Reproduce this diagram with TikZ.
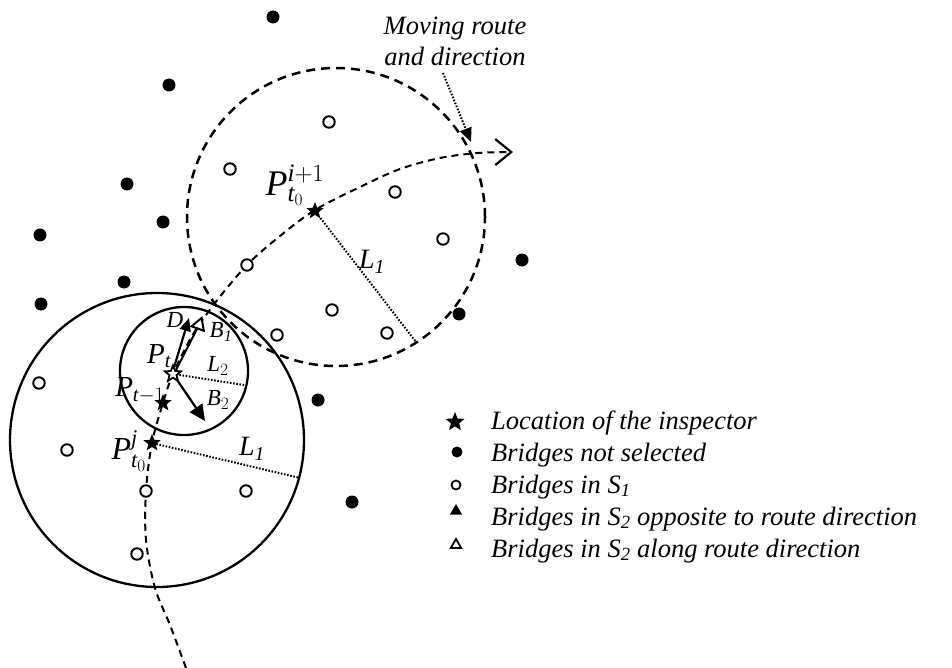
\documentclass[tikz,border=0pt]{standalone}
\usepackage{amsmath}
\usepackage{fontspec}
\setmainfont{Liberation Serif}
\usetikzlibrary{shapes.geometric, arrows.meta}
\newcommand{\fsLeg}{\fontsize{26.5}{31}\selectfont}
\newcommand{\fsBig}{\fontsize{36}{42}\selectfont}
\newcommand{\fsMid}{\fontsize{32}{38}\selectfont}
\newcommand{\fsP}{\fontsize{29}{34}\selectfont}
\newcommand{\fsSm}{\fontsize{23}{27}\selectfont}
\newcommand{\fsL}{\fontsize{28}{33}\selectfont}
\begin{document}
\begin{tikzpicture}[x=1pt,y=-1pt,
  bdot/.style={circle, fill=black, inner sep=0pt, minimum size=13pt},
  obr/.style={circle, draw=black, fill=white, line width=1.9pt, inner sep=0pt, minimum size=11.5pt},
  insp/.style={star, star points=5, star point ratio=2.3, fill=black, inner sep=0pt, minimum size=18pt},
  solidcirc/.style={circle, draw=black, line width=2.3pt, inner sep=0pt},
  dashcirc/.style={circle, draw=black, line width=2.5pt, dash pattern=on 9pt off 6pt, inner sep=0pt},
  routeline/.style={line width=2pt, dash pattern=on 7pt off 5pt},
  radline/.style={line width=2pt, dash pattern=on 1.6pt off 1.6pt},
  lbl/.style={inner sep=0pt},
  legtxt/.style={anchor=base west, inner sep=0pt, font=\fsLeg\itshape}
]
\useasboundingbox (0,0) rectangle (952,668);

% circles
\node[solidcirc, minimum size=294pt] (C1) at (157,440) {};
\node[solidcirc, minimum size=128pt] (C2) at (184,371) {};
\node[dashcirc, minimum size=298pt] (C3) at (336,217) {};

% route
\draw[routeline, -{Straight Barb[length=16pt,width=26pt,line width=2.2pt]}]
  plot[smooth, tension=0.55] coordinates {(186,668) (170,625) (155,588) (146,540) (146,491) (152,443) (163,403) (173,374) (192,336) (215,303) (247,265) (280,236) (315,210) (360,187) (400,169) (440,158) (478,153) (513,152)};

% inspector locations
\node[insp] (Pj) at (152,443) {};
\node[insp] (Ptm) at (163,403) {};
\node[insp] (Pi) at (315,211) {};

% radius lines
\coordinate (L1end) at (300,478);
\coordinate (L2end) at (244,385);
\coordinate (L3end) at (416,342);
\draw[radline] (Pj) -- (L1end);
\draw[radline] (Pi) -- (L3end);

% inspector P_t with its S2 bridges
\coordinate (Dtip) at (189,318);
\coordinate (B1pos) at (199,325);
\coordinate (B2tip) at (205,421);
\draw[line width=2pt] (175,372) -- (B1pos);
\node[regular polygon, regular polygon sides=3, draw=black, fill=white, line width=2pt, inner sep=0pt, minimum size=15pt, rotate=-20] (B1) at (B1pos) {};
\draw[line width=2.2pt, -{Triangle[length=13pt,width=11pt]}] (172,374) -- (Dtip);
\draw[line width=2.2pt, -{Triangle[length=16pt,width=15pt]}] (173,374) -- (B2tip);
\draw[radline] (173,374) -- (L2end);
\node[star, star points=5, star point ratio=2.3, draw=black, fill=white, line width=1.8pt, inner sep=0pt, minimum size=17pt] (Pt) at (173,374) {};

% bridges not selected
\node[bdot] (d1) at (273,17) {};
\node[bdot] (d2) at (169,85) {};
\node[bdot] (d3) at (127,184) {};
\node[bdot] (d4) at (163,222) {};
\node[bdot] (d5) at (40,235) {};
\node[bdot] (d6) at (124,282) {};
\node[bdot] (d7) at (41,304) {};
\node[bdot] (d8) at (522,260) {};
\node[bdot] (d9) at (459,314) {};
\node[bdot] (d10) at (318,400) {};
\node[bdot] (d11) at (352,502) {};

% bridges in S1
\node[obr] (o1) at (230,169) {};
\node[obr] (o2) at (329,122) {};
\node[obr] (o3) at (395,192) {};
\node[obr] (o4) at (443,239) {};
\node[obr] (o5) at (247,265) {};
\node[obr] (o6) at (332,310) {};
\node[obr] (o7) at (387,333) {};
\node[obr] (o8) at (277,335) {};
\node[obr] (o9) at (39,383) {};
\node[obr] (o10) at (67,450) {};
\node[obr] (o11) at (146,491) {};
\node[obr] (o12) at (246,491) {};
\node[obr] (o13) at (137,554) {};

% labels
\node[lbl, font=\fsBig] (lPi) at (295,185) {$\textit{P}^{\textit{i}+1}_{\textit{t}_{0}}$};
\node[lbl, font=\fsMid] (lPj) at (129,451) {$\textit{P}^{\textit{j}}_{\textit{t}_{0}}$};
\node[lbl, font=\fsP] (lPt) at (159,356) {$\textit{P}_{\textit{t}}$};
\node[lbl, font=\fsP] (lPtm) at (140,390) {$\textit{P}_{\textit{t}-1}$};
\node[lbl, font=\fsSm\itshape] (lD) at (175,320) {D};
\node[lbl, font=\fsSm] (lB1) at (221,332) {$\textit{B}_{\textit{1}}$};
\node[lbl, font=\fsSm] (lL2) at (218,366) {$\textit{L}_{2}$};
\node[lbl, font=\fsSm] (lB2) at (218,400) {$\textit{B}_{2}$};
\node[lbl, font=\fsL] (lL1) at (252,449) {$\textit{L}_{\textit{1}}$};
\node[lbl, font=\fsL] (lL3) at (372,262) {$\textit{L}_{\textit{1}}$};

% moving route annotation
\node[lbl, font=\fsLeg\itshape, align=center] (mv) at (455,41) {Moving route\\and direction};
\coordinate (mvs) at (443,73);
\coordinate (mvt) at (471,142);
\draw[radline, -{Triangle[length=14pt,width=12pt]}] (mvs) -- (mvt);

% legend
\node[insp, minimum size=20pt] (k1) at (455,422) {};
\node[circle, fill=black, inner sep=0pt, minimum size=11pt] (k2) at (457,452) {};
\node[circle, draw=black, line width=1.8pt, inner sep=0pt, minimum size=9pt] (k3) at (456,485) {};
\node[regular polygon, regular polygon sides=3, fill=black, inner sep=0pt, minimum size=14pt] (k4) at (456,511) {};
\node[regular polygon, regular polygon sides=3, draw=black, line width=1.8pt, inner sep=0pt, minimum size=12pt] (k5) at (456,545) {};
\node[legtxt] (t1) at (491,429) {Location of the inspector};
\node[legtxt] (t2) at (491,461) {Bridges not selected};
\node[legtxt] (t3) at (491,493) {Bridges in S\textsubscript{1}};
\node[legtxt] (t4) at (491,525) {Bridges in S\textsubscript{2} opposite to route direction};
\node[legtxt] (t5) at (491,557) {Bridges in S\textsubscript{2} along route direction};
\end{tikzpicture}
\end{document}
